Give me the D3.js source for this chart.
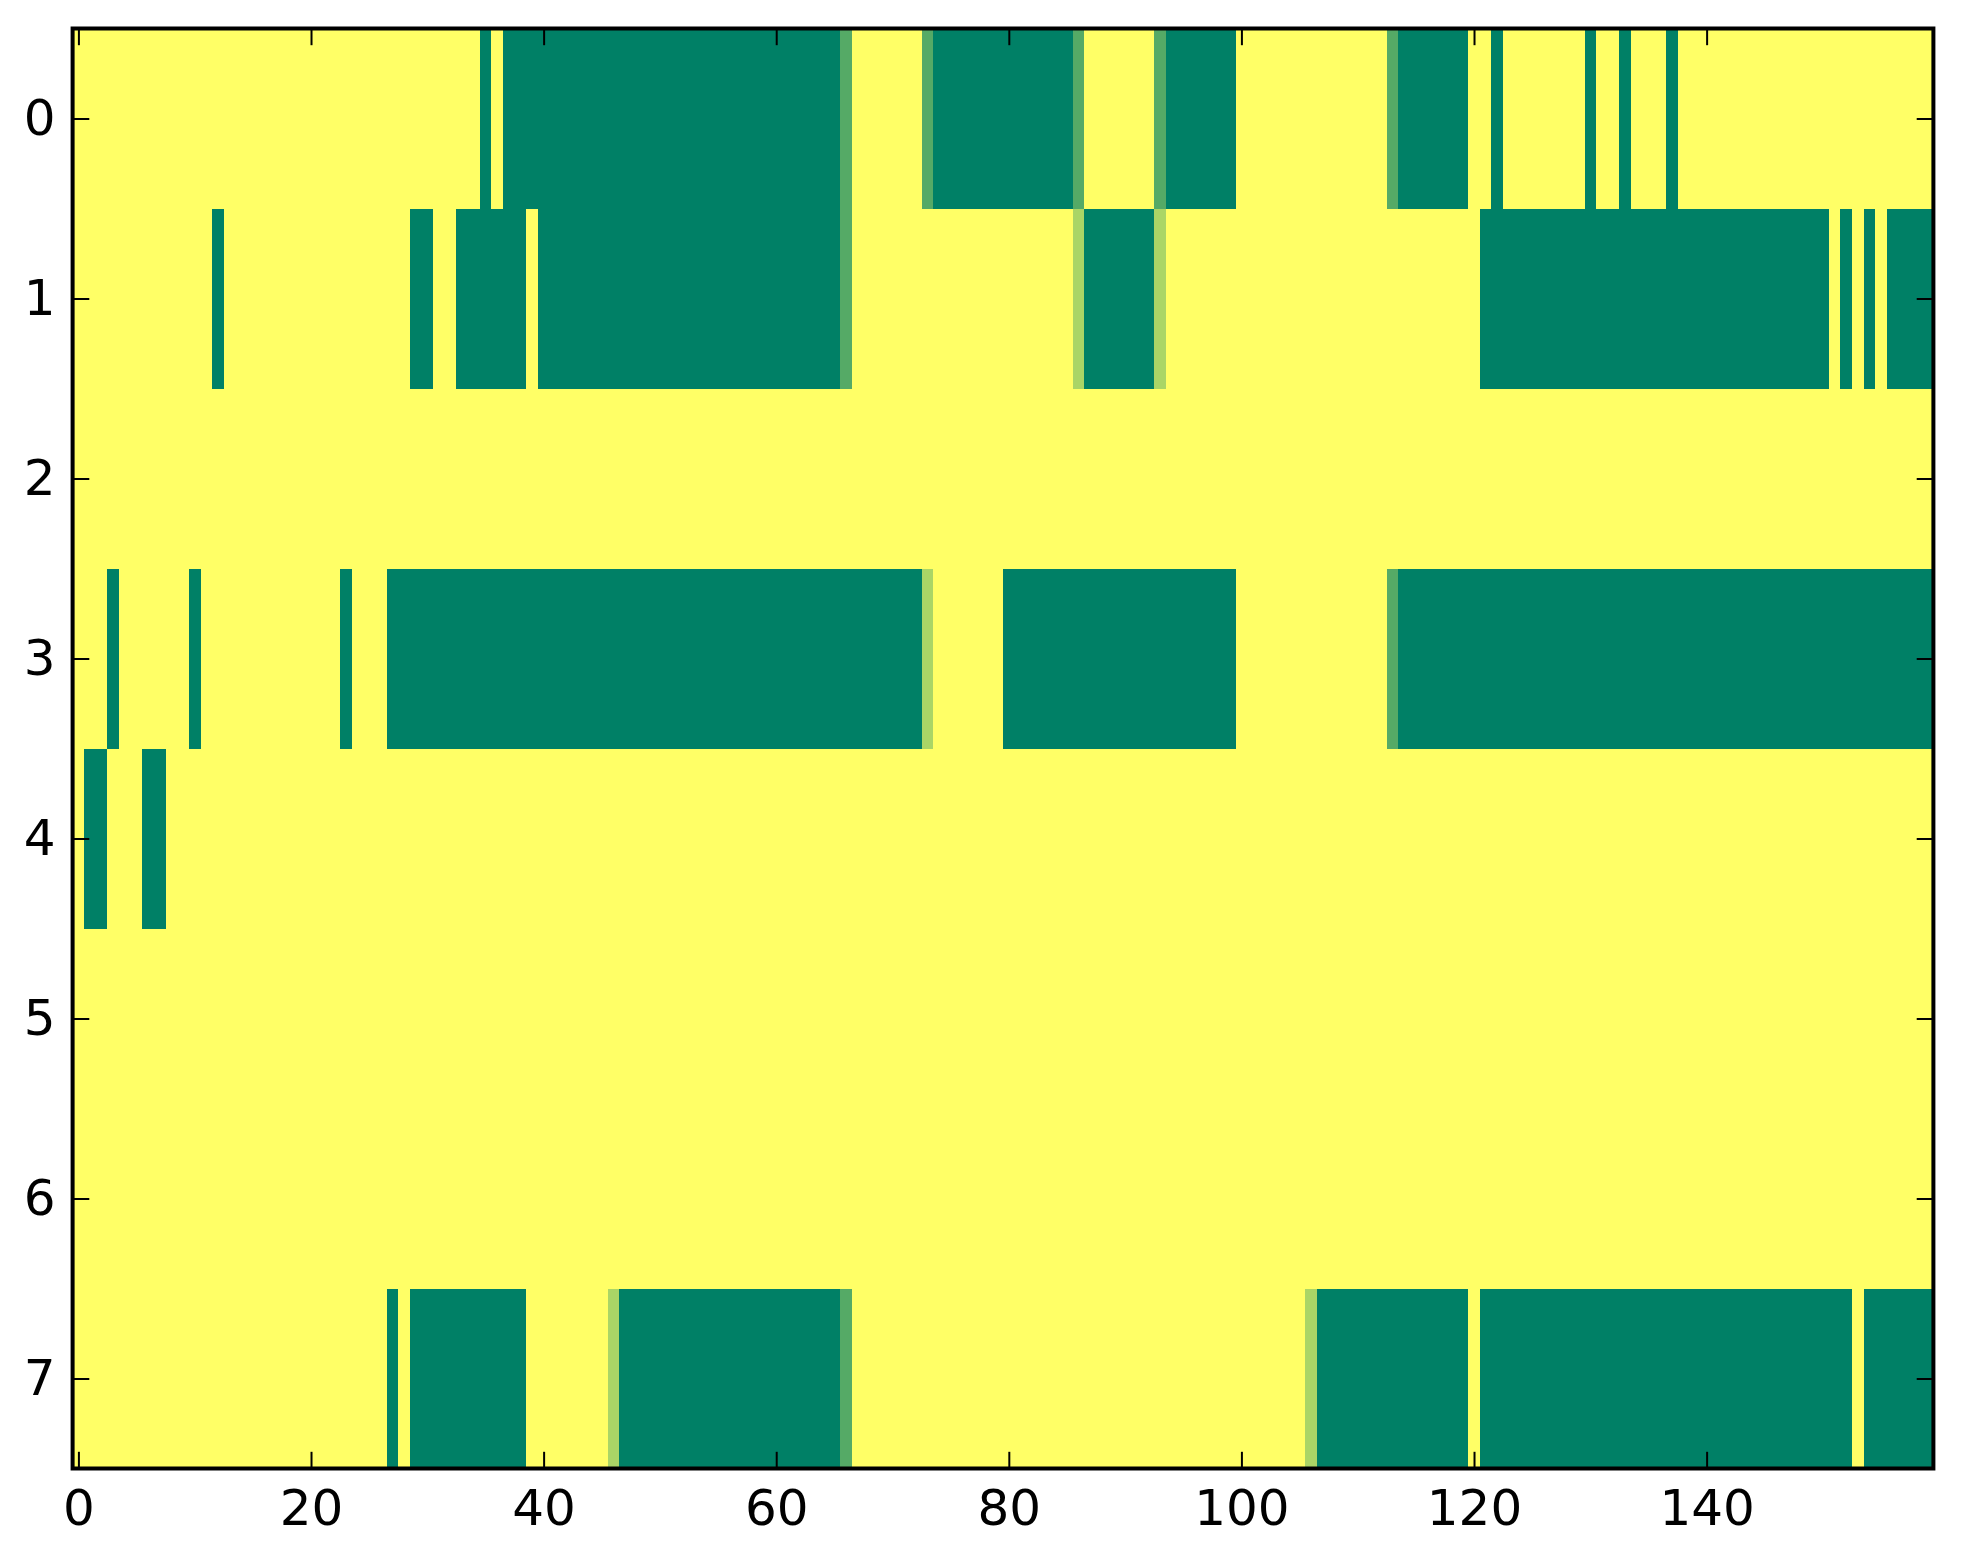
<!DOCTYPE html>
<html>
<head>
<meta charset="utf-8">
<script src="https://cdn.jsdelivr.net/npm/d3@7"></script>
<style>
  body { margin: 0; background: #fff; }
  text { font-family: "DejaVu Sans", sans-serif; }
</style>
</head>
<body>
<svg id="chart" width="1963" height="1564"></svg>
<script>
// image is 8 rows x 160 columns, values 0..1 (summer_r colours)
var nCols = 160;
var rowLabels = [0, 1, 2, 3, 4, 5, 6, 7];
var colTicks = [0, 20, 40, 60, 80, 100, 120, 140];

// non-zero runs per row: [first column, last column, value]
var runs0 = [[35,35,1],[37,65,1],[66,66,2/3],[73,73,2/3],[74,85,1],[86,86,2/3],[93,93,2/3],[94,99,1],
             [113,113,2/3],[114,119,1],[122,122,1],[130,130,1],[133,133,1],[137,137,1]];
var runs1 = [[12,12,1],[29,30,1],[33,38,1],[40,65,1],[66,66,2/3],[86,86,1/3],[87,92,1],[93,93,1/3],
             [121,150,1],[152,152,1],[154,154,1],[156,159,1]];
var runs2 = [];
var runs3 = [[3,3,1],[10,10,1],[23,23,1],[27,72,1],[73,73,1/3],[80,99,1],[113,113,2/3],[114,159,1]];
var runs4 = [[1,2,1],[6,7,1]];
var runs5 = [];
var runs6 = [];
var runs7 = [[27,27,1],[29,38,1],[46,46,1/3],[47,65,1],[66,66,2/3],[106,106,1/3],[107,119,1],
             [121,152,1],[154,159,1]];

var allRuns = [runs0, runs1, runs2, runs3, runs4, runs5, runs6, runs7];

// expand to cells
var cells = [];
allRuns.forEach(function(runs, r){
    var row = new Array(nCols).fill(0);
    runs.forEach(function(d){
        for (var c = d[0]; c <= d[1]; c++) row[c] = d[2];
    });
    row.forEach(function(v, c){ cells.push({row: r, col: c, value: v}); });
});

var plotLeft = 72.6, plotRight = 1933.4, plotTop = 28.5, plotBottom = 1468.5;
var tickLen = 16.7;

var svg = d3.select('#chart');

var x = d3.scaleLinear().domain([-0.5, nCols - 0.5]).range([plotLeft, plotRight]);
var y = d3.scaleLinear().domain([-0.5, rowLabels.length - 0.5]).range([plotTop, plotBottom]);
var color = d3.scaleLinear().domain([0, 1]).range(['#ffff66', '#008066']);

svg.append('g')
    .selectAll('rect')
    .data(cells)
    .enter()
    .append('rect')
    .attr('x', function(d){ return x(d.col - 0.5); })
    .attr('y', function(d){ return y(d.row - 0.5); })
    .attr('width', function(d){ return x(d.col + 0.5) - x(d.col - 0.5) + 0.4; })
    .attr('height', function(d){ return y(d.row + 0.5) - y(d.row - 0.5) + 0.4; })
    .attr('shape-rendering', 'crispEdges')
    .style('fill', function(d){ return color(d.value); });

function styleAxis(g){
    g.select('.domain').remove();
    g.selectAll('.tick line').attr('stroke', '#000').attr('stroke-width', 2);
    g.selectAll('.tick text').attr('fill', '#000').style('font-size', '50px');
}

svg.append('g')
    .attr('transform', 'translate(0,' + plotBottom + ')')
    .call(d3.axisBottom(x).tickValues(colTicks).tickSize(-tickLen).tickPadding(21))
    .call(styleAxis);

svg.append('g')
    .attr('transform', 'translate(0,' + plotTop + ')')
    .call(d3.axisTop(x).tickValues(colTicks).tickSize(-tickLen).tickFormat(''))
    .call(styleAxis);

svg.append('g')
    .attr('transform', 'translate(' + plotLeft + ',0)')
    .call(d3.axisLeft(y).tickValues(rowLabels).tickSize(-tickLen).tickPadding(17))
    .call(styleAxis);

svg.append('g')
    .attr('transform', 'translate(' + plotRight + ',0)')
    .call(d3.axisRight(y).tickValues(rowLabels).tickSize(-tickLen).tickFormat(''))
    .call(styleAxis);

svg.append('rect')
    .attr('x', plotLeft)
    .attr('y', plotTop)
    .attr('width', plotRight - plotLeft)
    .attr('height', plotBottom - plotTop)
    .attr('fill', 'none')
    .attr('stroke', '#000')
    .attr('stroke-width', 4);
</script>
</body>
</html>
